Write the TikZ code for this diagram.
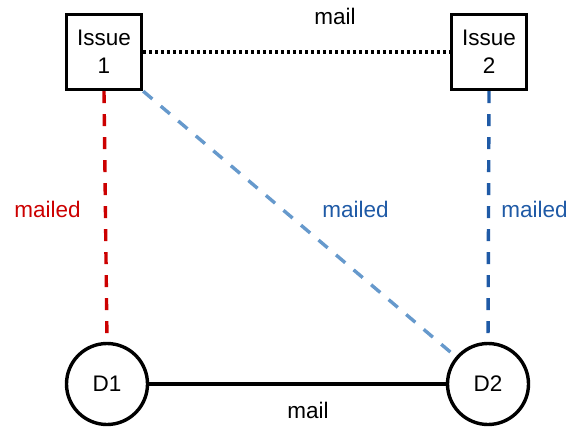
\documentclass[tikz,border=0pt]{standalone}
\usepackage{fontspec}
\setmainfont{Liberation Sans}
\begin{document}
\begin{tikzpicture}[x=1pt,y=-1pt,
  lbl/.style={font=\fontsize{22.5}{28}\selectfont, inner sep=0pt},
  issuebox/.style={draw, line width=3.4pt, minimum size=75pt, inner sep=0pt,
    align=center, font=\fontsize{22.5}{28}\selectfont},
  docnode/.style={draw, circle, line width=3.4pt, minimum size=81pt, inner sep=0pt,
    font=\fontsize{22.5}{28}\selectfont},
  dashlink/.style={line width=3.4pt, dash pattern=on 12pt off 11pt},
]
\definecolor{mred}{HTML}{CC0000}
\definecolor{mblue}{HTML}{1F5AA6}
\definecolor{lblue}{HTML}{6699CC}
\useasboundingbox (0,0) rectangle (569,427);

\node[issuebox] (i1) at (104,52) {Issue\\1};
\node[issuebox] (i2) at (489,52) {Issue\\2};
\node[docnode] (d1) at (107,384) {D1};
\node[docnode] (d2) at (488,384) {D2};

% mail exchange between the issues and between the documents
\draw[line width=3.4pt, dash pattern=on 3pt off 3pt] (i1.east) -- (i2.west);
\draw[line width=3.4pt] (d1.east) -- (d2.west);

% mailed links
\draw[dashlink, mred] (i1.south) -- (d1.north);
\draw[dashlink, mblue] (i2.south) -- (d2.north);
\draw[dashlink, lblue] (i1.south east) -- (d2);

\node[lbl, anchor=base] (t1) at (335,25) {mail};
\node[lbl, anchor=base] (t2) at (308,418) {mail};
\node[lbl, anchor=base, text=mred] (t3) at (47.5,218) {mailed};
\node[lbl, anchor=base, text=mblue] (t4) at (355.5,218) {mailed};
\node[lbl, anchor=base, text=mblue] (t5) at (534.5,218) {mailed};
\end{tikzpicture}
\end{document}
